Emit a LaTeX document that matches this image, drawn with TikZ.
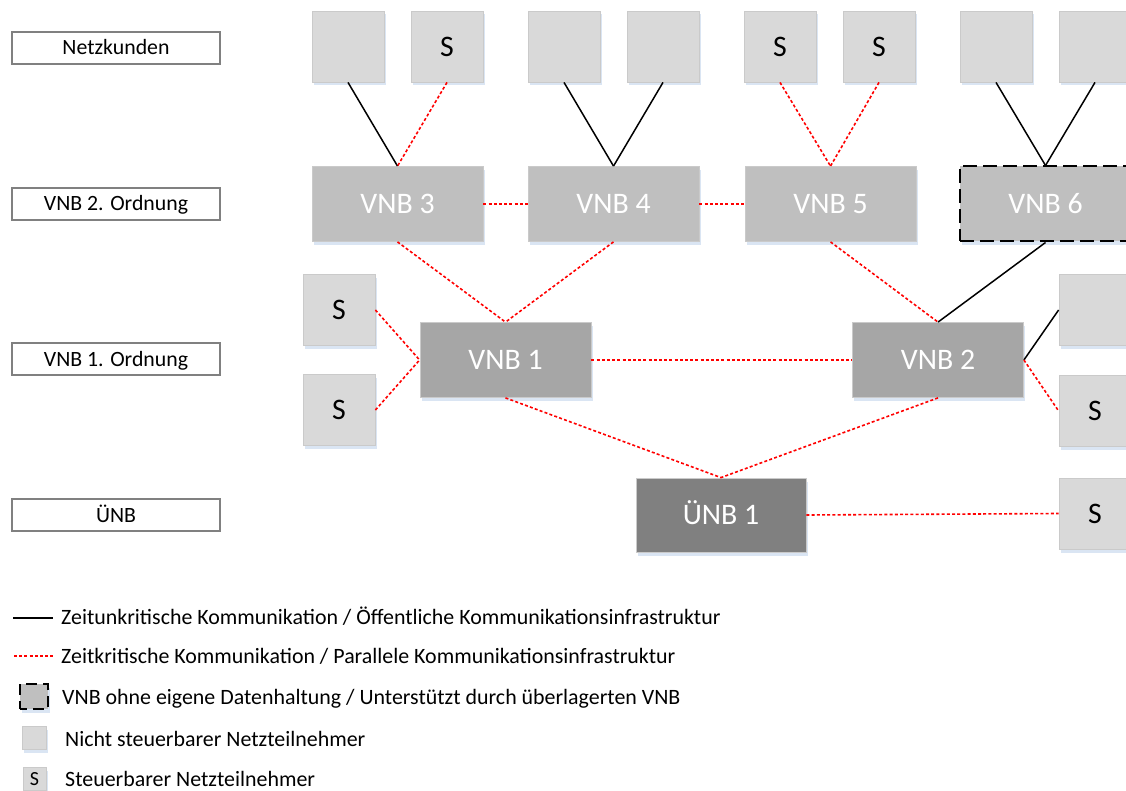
\documentclass[tikz,border=0pt]{standalone}
\usepackage{fontspec}
\setmainfont{Carlito}
\usetikzlibrary{shadows}

\definecolor{kundegrau}{HTML}{D9D9D9}
\definecolor{vnbzweigrau}{HTML}{BFBFBF}
\definecolor{vnbeinsgrau}{HTML}{A6A6A6}
\definecolor{uenbgrau}{HTML}{808080}
\definecolor{schattenblau}{HTML}{DAE5F3}
\definecolor{rahmengrau}{HTML}{CACACA}

\tikzset{
  kasten/.style={draw=rahmengrau, line width=0.8pt, inner sep=0pt,
    text height=19.2pt, text depth=0pt,
    drop shadow={shadow xshift=1.5pt, shadow yshift=-3.5pt, fill=schattenblau, draw=none, opacity=1}},
  kunde/.style={kasten, fill=kundegrau, minimum width=72pt, minimum height=71pt,
    font=\fontsize{29.8}{34}\selectfont},
  vnbzwei/.style={kasten, fill=vnbzweigrau, text=white, minimum width=171pt, minimum height=75pt,
    font=\fontsize{29.8}{34}\selectfont},
  vnbeins/.style={vnbzwei, fill=vnbeinsgrau},
  uenb/.style={vnbzwei, fill=uenbgrau, minimum width=170pt, minimum height=74pt},
  ohnedaten/.style={draw=black, line width=2pt, dash pattern=on 14pt off 6pt},
  ebene/.style={draw=uenbgrau, line width=1.2pt, fill=white, inner sep=0pt,
    minimum width=208pt, minimum height=32pt, text height=14pt, text depth=0pt,
    font=\fontsize{21.8}{26}\selectfont},
  legende/.style={anchor=base west, inner sep=0pt, font=\fontsize{21.9}{26}\selectfont},
  linie/.style={black, line width=1.5pt},
  zeitkritisch/.style={red, line width=1.6pt, dash pattern=on 3pt off 2.2pt}
}

\begin{document}
\begin{tikzpicture}[x=1pt,y=-1pt]
  \useasboundingbox (0,0) rectangle (1126,791);
  \clip (0,0) rectangle (1126,791);

  % ebenen
  \node[ebene] (e1) at (116,48) {Netzkunden};
  \node[ebene] (e2) at (116,204) {VNB 2. Ordnung};
  \node[ebene] (e3) at (116,359) {VNB 1. Ordnung};
  \node[ebene] (e4) at (116,515) {ÜNB};

  % netzkunden
  \node[kunde] (k1) at (348,46.5) {};
  \node[kunde] (k2) at (447,46.5) {S};
  \node[kunde] (k3) at (564,46.5) {};
  \node[kunde] (k4) at (663,46.5) {};
  \node[kunde] (k5) at (780,46.5) {S};
  \node[kunde] (k6) at (879,46.5) {S};
  \node[kunde] (k7) at (996,46.5) {};
  \node[kunde] (k8) at (1095,46.5) {};

  % vnb 2. ordnung
  \node[vnbzwei] (vnb3) at (397.5,204) {VNB 3};
  \node[vnbzwei] (vnb4) at (613.5,204) {VNB 4};
  \node[vnbzwei] (vnb5) at (830.5,204) {VNB 5};
  \node[vnbzwei,ohnedaten] (vnb6) at (1045.5,204) {VNB 6};

  % vnb 1. ordnung
  \node[vnbeins] (vnb1) at (505.5,360) {VNB 1};
  \node[vnbeins] (vnb2) at (938,360) {VNB 2};
  \node[kunde] (s1) at (339,310) {S};
  \node[kunde] (s2) at (339,410) {S};
  \node[kunde] (r1) at (1095,310) {};
  \node[kunde] (r2) at (1095,411) {S};

  % uenb
  \node[uenb] (uenb1) at (721,515) {ÜNB 1};
  \node[kunde] (r3) at (1095,513.5) {S};

  % verbindungen netzkunden
  \draw[linie] (k1.south) -- (vnb3.north);
  \draw[zeitkritisch] (k2.south) -- (vnb3.north);
  \draw[linie] (k3.south) -- (vnb4.north);
  \draw[linie] (k4.south) -- (vnb4.north);
  \draw[zeitkritisch] (k5.south) -- (vnb5.north);
  \draw[zeitkritisch] (k6.south) -- (vnb5.north);
  \draw[linie] (k7.south) -- (vnb6.north);
  \draw[linie] (k8.south) -- (vnb6.north);

  % verbindungen vnb
  \draw[zeitkritisch] (vnb3.east) -- (vnb4.west);
  \draw[zeitkritisch] (vnb4.east) -- (vnb5.west);
  \draw[zeitkritisch] (vnb3.south) -- (vnb1.north);
  \draw[zeitkritisch] (vnb4.south) -- (vnb1.north);
  \draw[zeitkritisch] (vnb5.south) -- (vnb2.north);
  \draw[linie] (vnb6.south) -- (vnb2.north);
  \draw[zeitkritisch] (s1.east) -- (vnb1.west);
  \draw[zeitkritisch] (s2.east) -- (vnb1.west);
  \draw[zeitkritisch] (vnb1.east) -- (vnb2.west);
  \draw[linie] (vnb2.east) -- (r1.west);
  \draw[zeitkritisch] (vnb2.east) -- (r2.west);

  % verbindungen uenb
  \draw[zeitkritisch] (vnb1.south) -- (uenb1.north);
  \draw[zeitkritisch] (vnb2.south) -- (uenb1.north);
  \draw[zeitkritisch] (uenb1.east) -- (r3.west);

  % legende
  \coordinate (l1a) at (13,618);
  \coordinate (l1b) at (53,618);
  \draw[linie] (l1a) -- (l1b);
  \node[legende] (t1) at (61,624) {Zeitunkritische Kommunikation / Öffentliche Kommunikationsinfrastruktur};
  \coordinate (l2a) at (14,656);
  \coordinate (l2b) at (53,656);
  \draw[zeitkritisch] (l2a) -- (l2b);
  \node[legende] (t2) at (61,663) {Zeitkritische Kommunikation / Parallele Kommunikationsinfrastruktur};
  \node[vnbzwei,ohnedaten,minimum width=28pt,minimum height=25pt,dash pattern=on 11pt off 6pt,dash phase=4pt] (i3) at (34,696.5) {};
  \node[legende] (t3) at (62,704) {VNB ohne eigene Datenhaltung / Unterstützt durch überlagerten VNB};
  \node[kunde,minimum width=24pt,minimum height=23pt] (i4) at (34,737.5) {};
  \node[legende] (t4) at (65,746) {Nicht steuerbarer Netzteilnehmer};
  \node[kunde,minimum width=23pt,minimum height=23pt,text height=13pt,font=\fontsize{20}{24}\selectfont] (i5) at (34.5,778.5) {S};
  \node[legende] (t5) at (65,786) {Steuerbarer Netzteilnehmer};
\end{tikzpicture}
\end{document}
